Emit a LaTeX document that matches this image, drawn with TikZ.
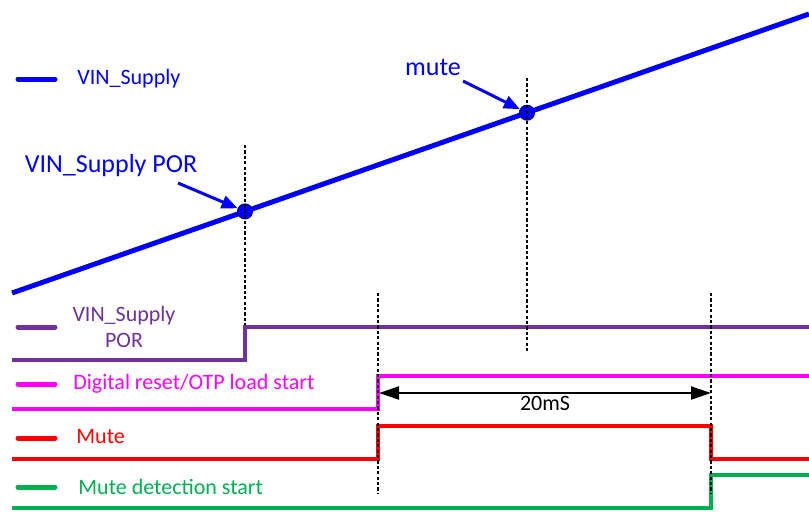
\documentclass[tikz,border=0pt]{standalone}
\usepackage{fontspec}
\setmainfont{Carlito}
\usepackage{xcolor}
\usetikzlibrary{arrows.meta,shapes,backgrounds,fit}

\definecolor{vinblue}{RGB}{0,0,255}
\definecolor{porpurple}{RGB}{112,48,160}
\definecolor{rstmagenta}{RGB}{255,0,255}
\definecolor{mutered}{RGB}{255,0,0}
\definecolor{detgreen}{RGB}{0,176,80}

\begin{document}
\begin{tikzpicture}[x=0.5pt,y=-0.5pt]
      \tikzstyle{supply}=[line width=2.5pt, draw=vinblue]
      \tikzstyle{signal}=[line width=2pt]
      \tikzstyle{legend_line}=[line width=2.5pt, line cap=round]
      \tikzstyle{legend_text}=[inner sep=0pt, anchor=west, font=\fontsize{11}{13}\selectfont]
      \tikzstyle{point}=[circle, fill=vinblue, draw=blue!60!black, line width=0.5pt, minimum size=7.5pt, inner sep=0pt]
      \tikzstyle{point_text}=[inner sep=0pt, text=vinblue, font=\fontsize{13}{15}\selectfont]
      \tikzstyle{pointer}=[line width=1.5pt, draw=vinblue, -{Triangle[length=8pt,width=6.5pt]}]
      \tikzstyle{marker}=[line width=1.3pt, dash pattern=on 1.6pt off 1.1pt]
      \tikzstyle{span}=[line width=1pt, {Triangle[length=10pt,width=6.5pt]}-{Triangle[length=10pt,width=6.5pt]}]

      \useasboundingbox (0,0) rectangle (809,511);

      \begin{scope}
        \draw[legend_line, vinblue] (18,79) -- (55,79);
        \node (vin_leg) [legend_text, text=vinblue] at (77,79) {VIN\_Supply};

        \draw[supply] (12,293) -- (809,14);
        \node (por_pt) [point] at (245,211.4) {};
        \node (mute_pt) [point] at (527,112.7) {};

        \node (por_lbl) [point_text] at (111,166) {VIN\_Supply POR};
        \node (mute_lbl) [point_text] at (433,67) {mute};
        \coordinate (por_tail) at (178,183);
        \coordinate (mute_tail) at (463,81);
        \draw[pointer] (por_tail) -- (por_pt);
        \draw[pointer] (mute_tail) -- (mute_pt);
      \end{scope}

      \begin{scope}
        \draw[legend_line, porpurple] (18,327) -- (55,327);
        \node (por_leg) [legend_text, anchor=center, text=porpurple, align=center] at (124,327) {VIN\_Supply\\POR};
        \draw[signal, porpurple] (12,360) -- (245,360) -- (245,327) -- (809,327);

        \draw[legend_line, rstmagenta] (18,384) -- (55,384);
        \node (rst_leg) [legend_text, text=rstmagenta] at (73,384) {Digital reset/OTP load start};
        \draw[signal, rstmagenta] (12,409) -- (378,409) -- (378,376) -- (809,376);

        \draw[legend_line, mutered] (18,438) -- (55,438);
        \node (mute_leg) [legend_text, text=mutered] at (76,437) {Mute};
        \draw[signal, mutered] (12,459) -- (378,459) -- (378,426) -- (711,426) -- (711,459) -- (809,459);

        \draw[legend_line, detgreen] (18,487) -- (55,487);
        \node (det_leg) [legend_text, text=detgreen] at (78,487) {Mute detection start};
        \draw[signal, detgreen] (12,508) -- (711,508) -- (711,475) -- (809,475);
      \end{scope}

      \begin{scope}
        \coordinate (m1_top) at (245,145);
        \coordinate (m1_bot) at (245,325);
        \coordinate (m2_top) at (527,78);
        \coordinate (m2_bot) at (527,352);
        \coordinate (m3_top) at (378,293);
        \coordinate (m3_bot) at (378,493);
        \coordinate (m4_top) at (711,293);
        \coordinate (m4_bot) at (711,493);
        \draw[marker] (m1_top) -- (m1_bot);
        \draw[marker] (m2_top) -- (m2_bot);
        \draw[marker] (m3_top) -- (m3_bot);
        \draw[marker] (m4_top) -- (m4_bot);

        \coordinate (t_start) at (379,393);
        \coordinate (t_end) at (711,393);
        \draw[span] (t_start) -- node (t_lbl) [below=0pt, inner sep=1pt, font=\fontsize{11}{13}\selectfont] {20mS} (t_end);
      \end{scope}
\end{tikzpicture}
\end{document}
